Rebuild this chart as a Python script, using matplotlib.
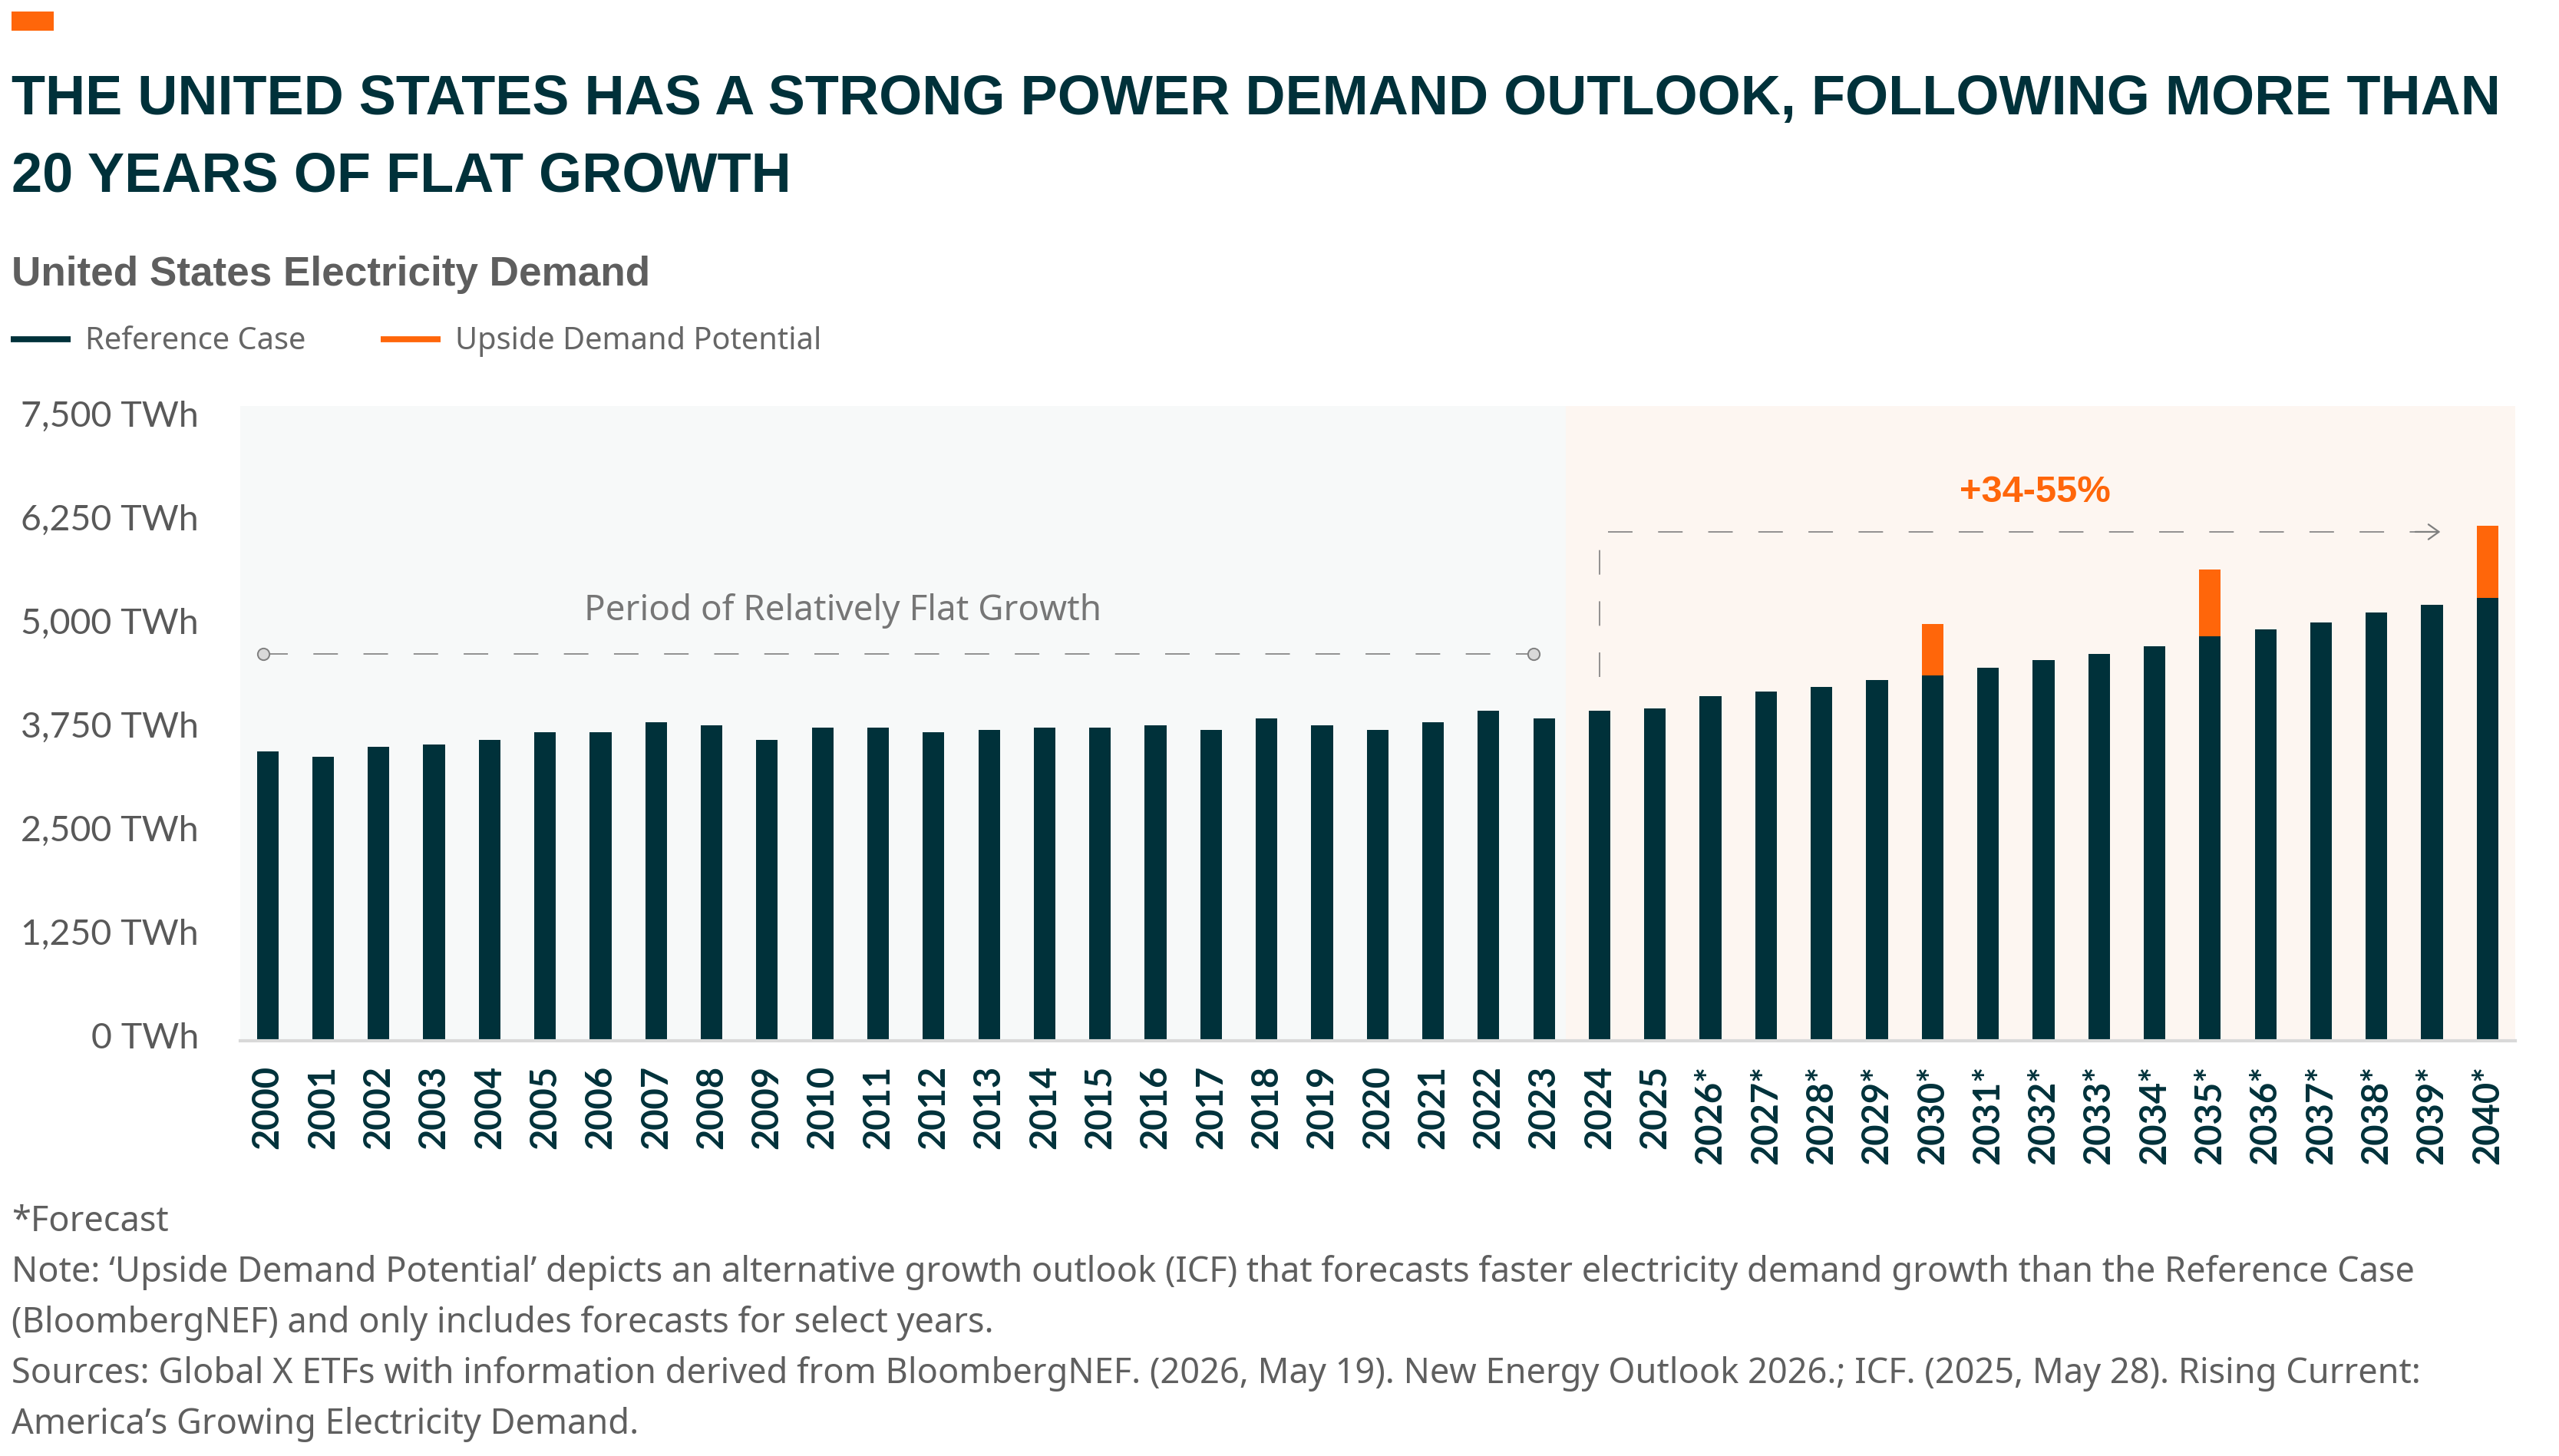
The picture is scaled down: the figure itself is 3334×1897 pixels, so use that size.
import matplotlib
matplotlib.use("Agg")
import matplotlib.pyplot as plt
from matplotlib.lines import Line2D
from matplotlib.patches import Rectangle
from matplotlib.transforms import ScaledTranslation
import numpy as np

plt.rcParams["lines.scale_dashes"] = False

# data (TWh)
years = [str(y) for y in range(2000, 2026)] + [f"{y}*" for y in range(2026, 2041)]
reference_case = [3488, 3430, 3546, 3572, 3631, 3720, 3722, 3839, 3806, 3632,
                  3778, 3778, 3722, 3750, 3778, 3778, 3806, 3750, 3893, 3806,
                  3750, 3839, 3979, 3893, 3980, 4011, 4154, 4213, 4266, 4356,
                  4410, 4500, 4590, 4670, 4760, 4878, 4963, 5047, 5166, 5257, 5342]
upside_years = ["2030*", "2035*", "2040*"]
upside_total = [5026, 5685, 6210]
y_ticks = [0, 1250, 2500, 3750, 5000, 6250, 7500]
y_tick_labels = [f"{v:,} TWh" for v in y_ticks]

title_lines = ["THE UNITED STATES HAS A STRONG POWER DEMAND OUTLOOK, FOLLOWING MORE THAN",
               "20 YEARS OF FLAT GROWTH"]
subtitle = "United States Electricity Demand"
footnotes = [
    "*Forecast",
    "Note: \u2018Upside Demand Potential\u2019 depicts an alternative growth outlook (ICF) that forecasts faster electricity demand growth than the Reference Case",
    "(BloombergNEF) and only includes forecasts for select years.",
    "Sources: Global X ETFs with information derived from BloombergNEF. (2026, May 19). New Energy Outlook 2026.; ICF. (2025, May 28). Rising Current:",
    "America\u2019s Growing Electricity Demand.",
]

DARK = "#00313A"
ORANGE = "#FF660A"
GRAY = "#595959"
DASH = "#7F7F7F"
BOLD_FONT = ["Liberation Sans", "DejaVu Sans"]
TEXT_FONT = ["Noto Sans", "DejaVu Sans"]
TICK_FONT = ["Lato", "DejaVu Sans"]

W, H, DPI = 3334, 1897, 200
fig = plt.figure(figsize=(W / DPI, H / DPI), dpi=DPI)
fig.patch.set_facecolor("white")


def fx(px):
    return px / W


def fy(py):
    return 1 - py / H


def ftext(x_px, y_px, s, **kw):
    return fig.text(fx(x_px), fy(y_px), s, **kw)


ax = fig.add_axes([fx(312.5), fy(1356), (3277 - 312.5) / W, (1356 - 529) / H])
x = np.arange(len(years))
split = 23.39

# shaded history / forecast backgrounds
ax.axvspan(-0.5, split, color="#F7F9F9", lw=0, zorder=0)
ax.axvspan(split, len(years) - 0.5, color="#FDF6F1", lw=0, zorder=0)

ax.bar(x, reference_case, width=0.39, color=DARK, zorder=3)
up_idx = [years.index(y) for y in upside_years]
up_bottom = [reference_case[i] for i in up_idx]
up_height = [t - b for t, b in zip(upside_total, up_bottom)]
ax.bar(up_idx, up_height, bottom=up_bottom, width=0.39, color=ORANGE, zorder=3)

ax.set_xlim(-0.5, len(years) - 0.5)
ax.set_ylim(0, 7657)
for s in ["top", "right", "left"]:
    ax.spines[s].set_visible(False)
ax.spines["bottom"].set_color("#D9D9D9")
ax.spines["bottom"].set_linewidth(1.5)
ax.spines["bottom"].set_zorder(4)

ax.set_xticks(x, years, rotation=90, fontweight="bold", color=DARK, family=TICK_FONT, fontsize=17)
ax.tick_params(axis="x", length=0, pad=11.5)
ax.set_yticks(y_ticks, y_tick_labels, color=GRAY, family=TICK_FONT, fontsize=18)
ax.tick_params(axis="y", length=0, pad=19.3)
for lab in ax.get_yticklabels():
    lab.set_transform(lab.get_transform() + ScaledTranslation(0, 7 / DPI, fig.dpi_scale_trans))

# flat growth annotation
flat_y = 4667
ax.plot([-0.08, 22.81], [flat_y, flat_y], color=DASH, lw=0.6, dashes=(11.5, 12), zorder=4)
ax.plot([-0.08, 22.81], [flat_y, flat_y], ls="none", marker="o", ms=5.5,
        mfc="#D9D9D9", mec=DASH, mew=0.7, zorder=5)
t_flat = ax.text(10.36, 5074, "Period of Relatively Flat Growth", ha="center", va="baseline",
                 color="#767676", family=TEXT_FONT, fontsize=18)

# growth bracket + arrow
ax.plot([24.0, 24.0], [4389, 5935], color=DASH, lw=0.6, dashes=(11.5, 12.5), zorder=4)
ax.plot([24.15, 38.9], [6139, 6139], color=DASH, lw=0.6, dashes=(11.5, 12), zorder=4)
ax.annotate("", xy=(39.15, 6139), xytext=(38.7, 6139),
            arrowprops=dict(arrowstyle="->,head_length=0.35,head_width=0.25", color=DASH, lw=0.8,
                            shrinkA=0, shrinkB=0, mutation_scale=14), zorder=4)
t_pct = ax.text(31.85, 6500, "+34-55%", ha="center", va="baseline", color=ORANGE,
                family=BOLD_FONT, fontweight="bold", fontsize=18)

# header
fig.add_artist(Rectangle((fx(15), fy(40)), fx(55), 25 / H, transform=fig.transFigure,
                         color=ORANGE, lw=0))
t1 = ftext(15, 149, title_lines[0], ha="left", va="baseline", color=DARK,
           family=BOLD_FONT, fontweight="bold", fontsize=30)
t2 = ftext(15, 249, title_lines[1], ha="left", va="baseline", color=DARK,
           family=BOLD_FONT, fontweight="bold", fontsize=30)
t_sub = ftext(15, 372, subtitle, ha="left", va="baseline", color="#5E5E5E",
              family=BOLD_FONT, fontweight="bold", fontsize=20)

# legend
fig.add_artist(Line2D([fx(14), fx(92)], [fy(442), fy(442)], color=DARK, lw=2.8,
                      solid_capstyle="butt"))
fig.add_artist(Line2D([fx(496), fx(574)], [fy(442), fy(442)], color=ORANGE, lw=2.8,
                      solid_capstyle="butt"))
t_l1 = ftext(111, 455, "Reference Case", ha="left", va="baseline", color="#666666",
             family=TEXT_FONT, fontsize=16)
t_l2 = ftext(593, 455, "Upside Demand Potential", ha="left", va="baseline", color="#666666",
             family=TEXT_FONT, fontsize=16)

# footnotes
foot_baselines = [1604, 1670, 1736, 1802, 1868]
foot_texts = [ftext(15, yb, s, ha="left", va="baseline", color="#5F5F5F",
                    family=TEXT_FONT, fontsize=16)
              for s, yb in zip(footnotes, foot_baselines)]

# size texts to the widths measured on the reference
fig.canvas.draw()
r = fig.canvas.get_renderer()


def fit(txt, target, use_height=False):
    bb = txt.get_window_extent(r)
    size = txt.get_fontsize() * target / (bb.height if use_height else bb.width)
    txt.set_fontsize(size)
    return size


size = fit(t1, 3242)
t2.set_fontsize(size)
fit(t_sub, 830)
fit(t_l1, 287)
t_l2.set_fontsize(t_l1.get_fontsize())
fit(t_flat, 674)
fit(t_pct, 197)
size = fit(foot_texts[1], 3132)
for t in foot_texts:
    t.set_fontsize(size)
xl = ax.get_xticklabels()
size = fit(xl[0], 109, use_height=True)
for t in xl:
    t.set_fontsize(size)
yl = ax.get_yticklabels()
size = fit(yl[-1], 232)
for t in yl:
    t.set_fontsize(size)

fig.savefig("out.png", dpi=DPI, facecolor="white")
